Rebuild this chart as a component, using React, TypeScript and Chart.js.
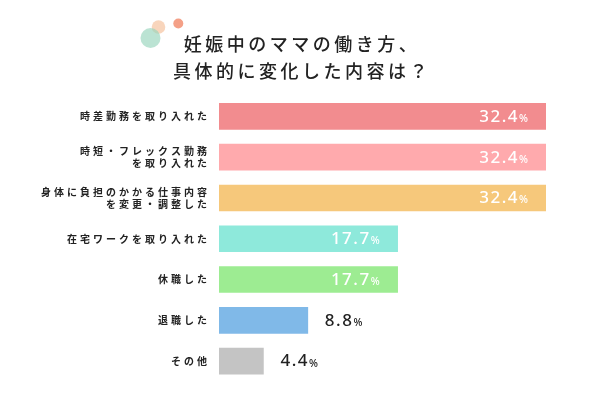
import React, { useEffect, useRef } from "react";
import { Chart, registerables } from "chart.js";

Chart.register(...registerables);

const titleLines = ["妊娠中のママの働き方、", "具体的に変化した内容は？"];
const categories: (string | string[])[] = [
  "時差勤務を取り入れた",
  ["時短・フレックス勤務", "を取り入れた"],
  ["身体に負担のかかる仕事内容", "を変更・調整した"],
  "在宅ワークを取り入れた",
  "休職した",
  "退職した",
  "その他",
];
const values = [32.4, 32.4, 32.4, 17.7, 17.7, 8.8, 4.4];
const barColors = [
  "rgb(242,140,143)",
  "rgb(255,170,173)",
  "rgb(246,200,123)",
  "rgb(142,233,219)",
  "rgb(157,236,146)",
  "rgb(128,185,232)",
  "rgb(196,196,196)",
];

const decoPlugin = {
  id: "deco",
  beforeDraw(chart: any) {
    const ctx = chart.ctx as CanvasRenderingContext2D;
    ctx.save();
    ctx.fillStyle = "rgba(245,195,160,0.7)";
    ctx.beginPath();
    ctx.arc(158.5, 27, 6.8, 0, Math.PI * 2);
    ctx.fill();
    ctx.fillStyle = "rgba(150,212,188,0.65)";
    ctx.beginPath();
    ctx.arc(150.5, 38, 10, 0, Math.PI * 2);
    ctx.fill();
    ctx.fillStyle = "rgb(244,160,135)";
    ctx.beginPath();
    ctx.arc(178.3, 23.5, 5, 0, Math.PI * 2);
    ctx.fill();
    (ctx as any).letterSpacing = "3.5px";
    ctx.fillStyle = "#222";
    ctx.font = '500 18px "Noto Sans CJK JP"';
    ctx.textAlign = "center";
    ctx.textBaseline = "middle";
    ctx.fillText(titleLines[0], 302, 44);
    ctx.fillText(titleLines[1], 302, 71.5);
    ctx.restore();
    (ctx as any).letterSpacing = "3px";
  },
  afterDatasetsDraw(chart: any) {
    const ctx = chart.ctx as CanvasRenderingContext2D;
    const meta = chart.getDatasetMeta(0);
    ctx.save();
    ctx.textBaseline = "middle";
    meta.data.forEach((bar: any, i: number) => {
      const v = values[i];
      const numText = v.toFixed(1);
      const inside = v >= 15;
      const numFont = '500 17px "Noto Sans"';
      const pctFont = '500 10.5px "Noto Sans"';
      (ctx as any).letterSpacing = "1.5px";
      ctx.font = numFont;
      const numW = ctx.measureText(numText).width;
      ctx.font = pctFont;
      (ctx as any).letterSpacing = "0px";
      const pctW = ctx.measureText("%").width;
      let startX: number;
      if (inside) {
        startX = bar.x - 18 - pctW - numW;
        ctx.fillStyle = "#ffffff";
      } else {
        startX = bar.x + 17;
        ctx.fillStyle = "#222";
      }
      ctx.textAlign = "left";
      (ctx as any).letterSpacing = "1.5px";
      ctx.font = numFont;
      ctx.fillText(numText, startX, bar.y + 0.5);
      (ctx as any).letterSpacing = "0px";
      ctx.font = pctFont;
      ctx.fillText("%", startX + numW, bar.y + 2.5);
    });
    ctx.restore();
  },
};

export default function App() {
  const ref = useRef<HTMLCanvasElement>(null);
  useEffect(() => {
    if (!ref.current) return;
    const chart = new Chart(ref.current, {
      type: "bar",
      data: {
        labels: categories,
        datasets: [
          {
            data: values,
            backgroundColor: barColors,
            borderWidth: 0,
            barThickness: 26,
          },
        ],
      },
      options: {
        indexAxis: "y",
        responsive: false,
        animation: false,
        layout: { padding: { top: 96, bottom: 18.5, left: 0, right: 54 } },
        plugins: {
          legend: { display: false },
          tooltip: { enabled: false },
          title: { display: false },
        },
        scales: {
          x: { display: false, min: 0, max: 32.4 },
          y: {
            grid: { display: false },
            border: { display: false },
            afterFit: (scale: any) => {
              scale.width = 219;
            },
            ticks: {
              padding: 1,
              color: "#222",
              font: { family: '"Noto Sans CJK JP"', size: 10, weight: "bold", lineHeight: 1.25 },
            },
          },
        },
      },
      plugins: [decoPlugin],
    });
    return () => chart.destroy();
  }, []);
  return (
    <div style={{ position: "fixed", left: 0, top: 0, width: 600, height: 400, background: "#fff" }}>
      <canvas ref={ref} width={600} height={400} />
    </div>
  );
}
